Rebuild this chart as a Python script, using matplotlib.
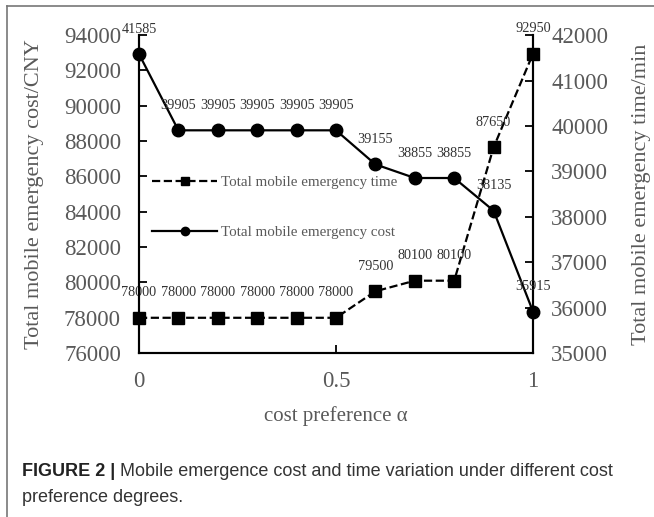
import matplotlib
matplotlib.use('Agg')
import matplotlib.pyplot as plt
from matplotlib.lines import Line2D

# cost preference values
alpha = [0, 0.1, 0.2, 0.3, 0.4, 0.5, 0.6, 0.7, 0.8, 0.9, 1.0]
# dashed/square series (left axis)
square_vals = [78000, 78000, 78000, 78000, 78000, 78000, 79500, 80100, 80100, 87650, 92950]
# solid/circle series (right axis)
circle_vals = [41585, 39905, 39905, 39905, 39905, 39905, 39155, 38855, 38855, 38135, 35915]

gray = '#595959'
serif = ['Liberation Serif', 'DejaVu Serif']

fig = plt.figure(figsize=(6.54, 5.17), dpi=100)
ax = fig.add_axes([0.2125, 0.317, 0.6025, 0.615])
ax2 = ax.twinx()

ax.plot(alpha, square_vals, 'k--', marker='s', markersize=8.5, linewidth=1.6, clip_on=False, zorder=3)
ax2.plot(alpha, circle_vals, 'k-', marker='o', markersize=9, linewidth=1.6, clip_on=False, zorder=3)

for x, y in zip(alpha, square_vals):
    ax.annotate(str(y), (x, y), xytext=(0, 25), textcoords='offset pixels',
                ha='center', va='center', fontsize=10.3, family=serif, color='#333333')
for x, y in zip(alpha, circle_vals):
    ax2.annotate(str(y), (x, y), xytext=(0, 25), textcoords='offset pixels',
                 ha='center', va='center', fontsize=10.3, family=serif, color='#333333')

ax.set_xlim(0, 1)
ax.set_ylim(76000, 94000)
ax2.set_ylim(35000, 42000)
ax.set_xticks([0, 0.5, 1])
ax.set_xticklabels(['0', '0.5', '1'])
ax.set_yticks(range(76000, 94001, 2000))
ax2.set_yticks(range(35000, 42001, 1000))

for a in (ax, ax2):
    a.spines['top'].set_visible(False)
    for s in a.spines.values():
        s.set_linewidth(1.5)
    a.tick_params(direction='in', length=6, width=1.3, labelsize=16.5, labelcolor=gray, pad=13)
    for lab in a.get_xticklabels() + a.get_yticklabels():
        lab.set_family(serif)
ax.tick_params(axis='x', pad=13)

ax.set_ylabel('Total mobile emergency cost/CNY', fontsize=16, family=serif, color=gray, labelpad=14)
ax2.set_ylabel('Total mobile emergency time/min', fontsize=16, family=serif, color=gray, labelpad=17)
ax.set_xlabel('cost preference \u03b1', fontsize=15, family=serif, color=gray, labelpad=10)

handles = [Line2D([], [], color='k', linestyle='--', marker='s', markersize=6, linewidth=1.6),
           Line2D([], [], color='k', linestyle='-', marker='o', markersize=6, linewidth=1.6)]
leg = ax.legend(handles, ['Total mobile emergency time', 'Total mobile emergency cost'],
                loc='upper left', bbox_to_anchor=(0.0, 0.60), frameon=False,
                prop={'family': serif, 'size': 10.8}, labelcolor=gray,
                handlelength=4.3, labelspacing=2.4, handletextpad=0.3)

# caption
cap_size = 13
renderer = fig.canvas.get_renderer()
t1 = fig.text(0.033, 0.088, 'FIGURE 2 |', fontsize=cap_size, fontweight='bold',
              family='Liberation Sans', color='#222222', va='center')
w = t1.get_window_extent(renderer).width / fig.bbox.width
fig.text(0.033 + w + 0.008, 0.088, 'Mobile emergence cost and time variation under different cost',
         fontsize=cap_size, family='Liberation Sans', color='#333333', va='center')
fig.text(0.033, 0.038, 'preference degrees.', fontsize=cap_size, family='Liberation Sans',
         color='#333333', va='center')

# frame lines
fig.add_artist(Line2D([0.011, 0.011], [0, 0.989], transform=fig.transFigure, color='#777777', linewidth=1.2))
fig.add_artist(Line2D([0.011, 1], [0.989, 0.989], transform=fig.transFigure, color='#777777', linewidth=1.2))

fig.savefig('out.png', dpi=100)
